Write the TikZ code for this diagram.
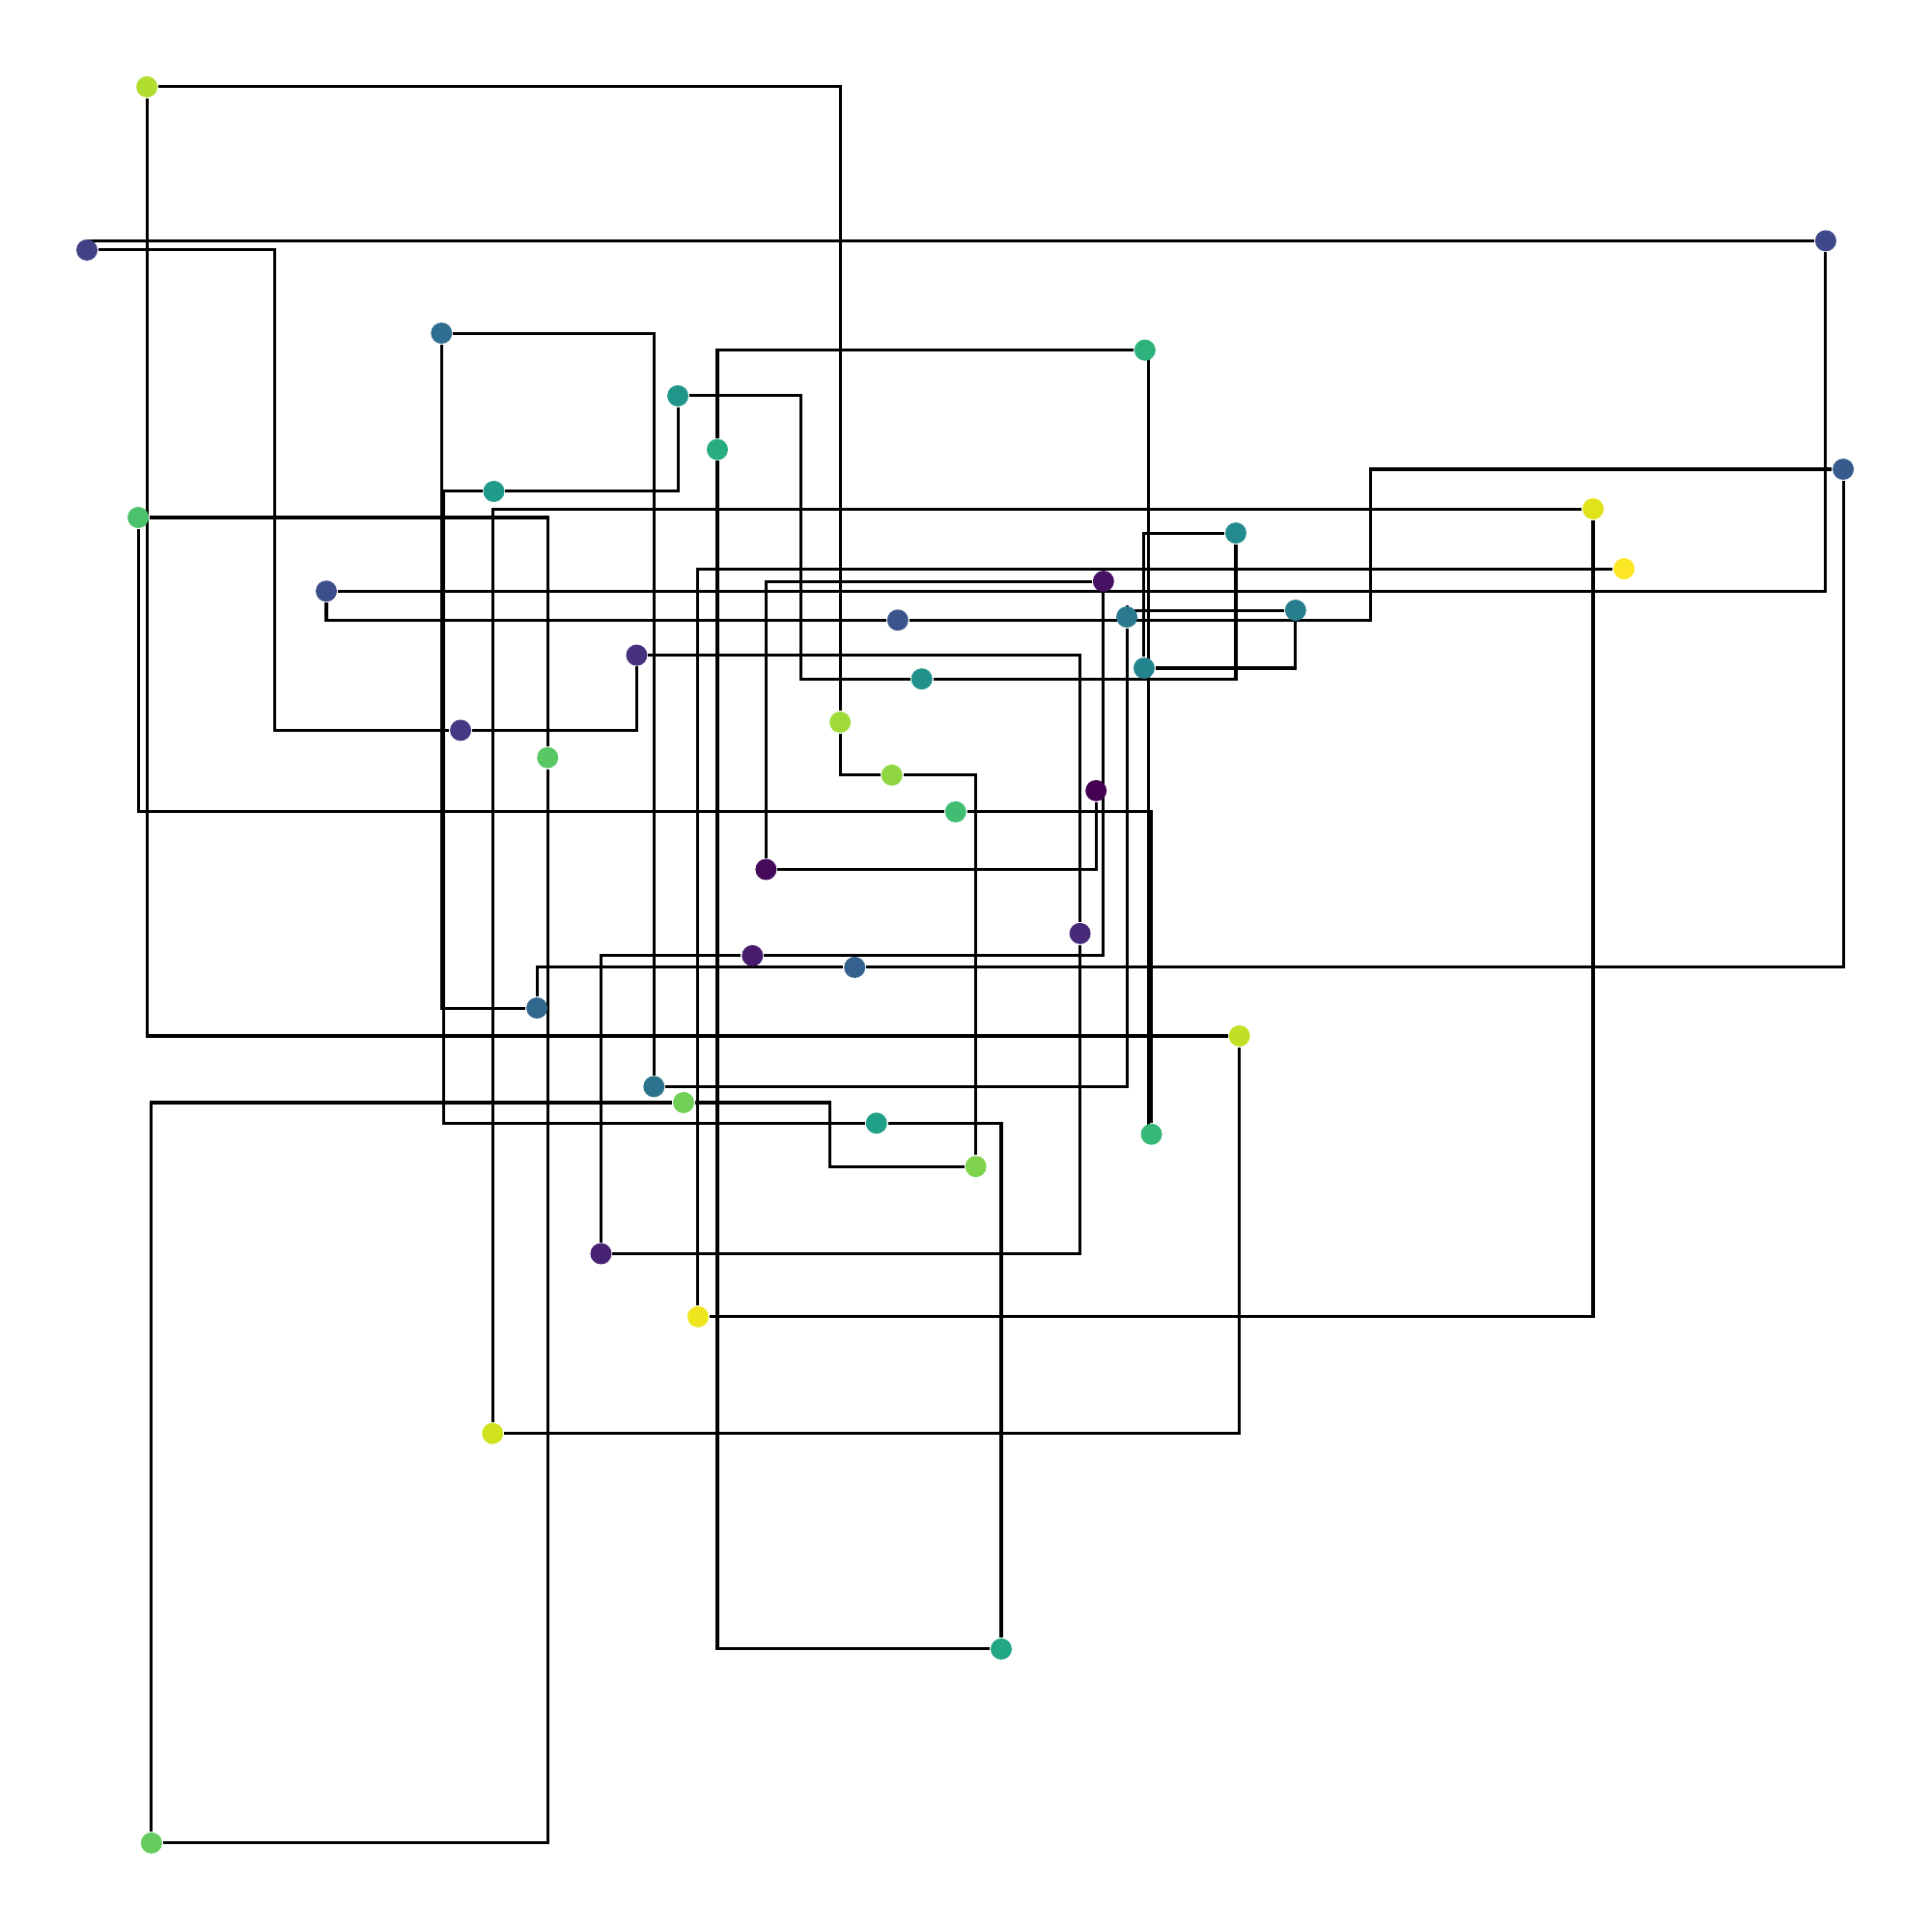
\documentclass[tikz,border=0pt]{standalone}
\usepackage{tikz}
\usetikzlibrary{backgrounds}
% viridis, sampled every 0.05
\definecolor{vir0}{HTML}{440154}
\definecolor{vir1}{HTML}{471365}
\definecolor{vir2}{HTML}{482475}
\definecolor{vir3}{HTML}{463480}
\definecolor{vir4}{HTML}{414487}
\definecolor{vir5}{HTML}{3B528B}
\definecolor{vir6}{HTML}{355F8D}
\definecolor{vir7}{HTML}{2F6C8E}
\definecolor{vir8}{HTML}{2A788E}
\definecolor{vir9}{HTML}{25848E}
\definecolor{vir10}{HTML}{21918C}
\definecolor{vir11}{HTML}{1E9C89}
\definecolor{vir12}{HTML}{22A884}
\definecolor{vir13}{HTML}{2FB47C}
\definecolor{vir14}{HTML}{44BF70}
\definecolor{vir15}{HTML}{5EC962}
\definecolor{vir16}{HTML}{7AD151}
\definecolor{vir17}{HTML}{9BD93C}
\definecolor{vir18}{HTML}{BDDF26}
\definecolor{vir19}{HTML}{DFE318}
\definecolor{vir20}{HTML}{FDE725}

\tikzset{
  dot/.style={circle, inner sep=0pt, minimum size=4.9pt},
  link/.style={draw=black, line width=0.68pt}
}

\begin{document}
\begin{tikzpicture}[x=0.01cm, y=-0.01cm]
  \useasboundingbox (0,0) rectangle (1568,1568);
  % points, in the order of the route
  \foreach \n/\px/\py [count=\i from 0] in {
      p0/890/642, p1/622/706, p2/896/472, p3/611/776, p4/488/1018,
      p5/877/758, p6/517/532, p7/374/593, p8/70.6/203, p9/1482.5/195.5,
      p10/265/480, p11/729/503.5, p12/1496.7/381, p13/694/785.5, p14/436/818.5,
      p15/358.5/270.5, p16/531/882.3, p17/915/501, p18/1052/495.5, p19/929/542.5,
      p20/1003.5/432.8, p21/748.5/551.3, p22/550.4/321.4, p23/401/399, p24/711.7/912,
      p25/813/1339, p26/582.5/365, p27/929.7/284.3, p28/935/921, p29/776/659.2,
      p30/112.2/420.2, p31/444.7/615.2, p32/123/1496.5, p33/555.1/895.3, p34/792.4/947.2,
      p35/724.2/629.4, p36/682.2/586.4, p37/119.3/70.5, p38/1006.4/841.2, p39/400/1164,
      p40/1293.6/413.2, p41/566.8/1069.2, p42/1318.7/461.8} {
    \pgfmathsetmacro\t{\i*20/42}
    \pgfmathtruncatemacro\k{\t}
    \pgfmathtruncatemacro\kk{min(\k+1,20)}
    \pgfmathtruncatemacro\f{round((\t-\k)*100)}
    \node[dot, fill=vir\kk!\f!vir\k] (\n) at (\px,\py) {};
  }
  \begin{scope}[on background layer]
    \draw[link] (p0) |- (p1);
    \draw[link] (p1) |- (p2);
    \draw[link] (p2) |- (p3);
    \draw[link] (p3) -| (p4);
    \draw[link] (p4) -| (p5);
    \draw[link] (p5) |- (p6);
    \draw[link] (p6) |- (p7);
    \draw[link] (p8) -- ++(152.3,0) |- (p7);
    \draw[link] (p8.center) |- (p9);
    \draw[link] (p9) |- (p10);
    \draw[link] (p10) |- (p11);
    \draw[link] (p11) -- ++(383.8,0) |- (p12);
    \draw[link] (p12) |- (p13);
    \draw[link] (p13) -| (p14);
    \draw[link] (p14) -| (p15);
    \draw[link] (p15) -| (p16);
    \draw[link] (p16) -| (p17);
    \draw[link] (p17) |- (p18);
    \draw[link] (p18) |- (p19);
    \draw[link] (p19) |- (p20);
    \draw[link] (p20) |- (p21);
    \draw[link] (p21) -- ++(-98.2,0) |- (p22);
    \draw[link] (p22) |- (p23);
    \draw[link] (p23) -- ++(-40.5,0) |- (p24);
    \draw[link] (p24) -| (p25);
    \draw[link] (p25) -| (p26);
    \draw[link] (p26) |- (p27);
    \draw[link] ([xshift=-0.65pt]p28.center) |- (p27.center);
    \draw[link] (p28) |- (p29);
    \draw[link] (p29) -| (p30);
    \draw[link] (p30) -| (p31);
    \draw[link] (p31) |- (p32);
    \draw[link] (p32) |- (p33);
    \draw[link] (p33) -- ++(118.5,0) |- (p34);
    \draw[link] (p34) |- (p35);
    \draw[link] (p35) -| (p36);
    \draw[link] (p36) |- (p37);
    \draw[link] (p37) |- (p38);
    \draw[link] (p38) |- (p39);
    \draw[link] (p39) |- (p40);
    \draw[link] (p40) |- (p41);
    \draw[link] (p41) |- (p42);
  \end{scope}
\end{tikzpicture}
\end{document}
